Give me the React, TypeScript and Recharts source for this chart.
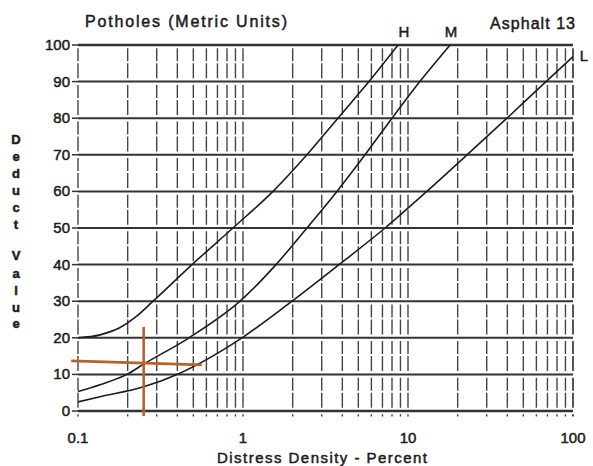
import React from "react";
import { ComposedChart, Line, XAxis, YAxis, ReferenceLine } from "recharts";

const highSeverity = [
  { x: 0.1, y: 20 },
  { x: 0.136, y: 20.8 },
  { x: 0.18, y: 22.8 },
  { x: 0.221, y: 25.5 },
  { x: 0.285, y: 30 },
  { x: 0.491, y: 40 },
  { x: 0.869, y: 50 },
  { x: 1.52, y: 60 },
  { x: 2.44, y: 70 },
  { x: 3.76, y: 80 },
  { x: 5.8, y: 90 },
  { x: 8.7, y: 100 },
];

const mediumSeverity = [
  { x: 0.1, y: 5.3 },
  { x: 0.136, y: 7.2 },
  { x: 0.198, y: 10 },
  { x: 0.25, y: 12.8 },
  { x: 0.471, y: 20 },
  { x: 0.959, y: 30 },
  { x: 1.585, y: 40 },
  { x: 2.44, y: 50 },
  { x: 3.71, y: 60 },
  { x: 5.49, y: 70 },
  { x: 8.0, y: 80 },
  { x: 11.8, y: 90 },
  { x: 18.0, y: 100 },
];

const lowSeverity = [
  { x: 0.1, y: 2.5 },
  { x: 0.136, y: 3.9 },
  { x: 0.25, y: 6.6 },
  { x: 0.398, y: 10 },
  { x: 0.986, y: 20 },
  { x: 1.98, y: 30 },
  { x: 3.82, y: 40 },
  { x: 7.26, y: 50 },
  { x: 13.0, y: 60 },
  { x: 22.8, y: 70 },
  { x: 39.8, y: 80 },
  { x: 68.6, y: 90 },
  { x: 100, y: 96.8 },
];

const xTicks = [0.1, 1, 10, 100];
const yTicks = [0, 10, 20, 30, 40, 50, 60, 70, 80, 90, 100];
const xGrid = [
  0.1, 0.2, 0.3, 0.4, 0.5, 0.6, 0.7, 0.8, 0.9,
  1, 2, 3, 4, 5, 6, 7, 8, 9,
  10, 20, 30, 40, 50, 60, 70, 80, 90, 100,
];

const exampleVertical = [
  { x: 0.25, y: -1.4 },
  { x: 0.25, y: 23 },
];
const exampleHorizontal = [
  { x: 0.091, y: 13.7 },
  { x: 0.562, y: 12.6 },
];

const yLabelLetters = [
  { ch: "D", y: 139 },
  { ch: "e", y: 156 },
  { ch: "d", y: 173 },
  { ch: "u", y: 190 },
  { ch: "c", y: 207 },
  { ch: "t", y: 224 },
  { ch: "V", y: 255 },
  { ch: "a", y: 273 },
  { ch: "l", y: 290 },
  { ch: "u", y: 307 },
  { ch: "e", y: 323 },
];

const FONT = '"Liberation Sans", Arial, Helvetica, sans-serif';
const INK = "#1c1c1c";

const XTick = (props: any) => {
  const { x, payload } = props;
  return (
    <text x={x} y={443} textAnchor="middle" fontFamily={FONT} fontSize={15} fill={INK} stroke={INK} strokeWidth={0.5}>
      {payload.value}
    </text>
  );
};

const YTick = (props: any) => {
  const { x, y, payload } = props;
  return (
    <text x={x} y={y + 5} textAnchor="end" fontFamily={FONT} fontSize={15} fill={INK} stroke={INK} strokeWidth={0.5}>
      {payload.value}
    </text>
  );
};

export default function App() {
  return (
    <div style={{ position: "absolute", left: 0, top: 0, width: 593, height: 466, background: "#fff" }}>
      <ComposedChart
        width={593}
        height={466}
        margin={{ top: 45, right: 20, bottom: 25, left: 18 }}
      >
        <XAxis
          type="number"
          dataKey="x"
          scale="log"
          domain={[0.1, 100]}
          ticks={xTicks}
          allowDataOverflow
          axisLine={false}
          tickLine={false}
          height={30}
          tick={<XTick />}
        />
        <YAxis
          type="number"
          dataKey="y"
          domain={[0, 100]}
          ticks={yTicks}
          allowDataOverflow
          width={60}
          axisLine={false}
          tickLine={{ stroke: "#333", strokeWidth: 1.5 }}
          tickSize={6}
          tickMargin={2}
          tick={<YTick />}
        />
        {xGrid.map((v) => (
          <ReferenceLine
            key={"vx" + v}
            segment={[
              { x: v, y: 100 },
              { x: v, y: -1.5 },
            ]}
            ifOverflow="visible"
            stroke="#444"
            strokeWidth={v === 100 ? 1.8 : 1.4}
            strokeDasharray="13 2 15 6.6"
            strokeDashoffset={33.3}
          />
        ))}
        {yTicks.map((v) => (
          <ReferenceLine
            key={"hy" + v}
            y={v}
            ifOverflow="visible"
            stroke="#333"
            strokeWidth={v === 100 || v === 0 ? 2.4 : 2}
          />
        ))}
        <Line
          data={highSeverity}
          dataKey="y"
          type="monotone"
          stroke={INK}
          strokeWidth={1.6}
          dot={false}
          isAnimationActive={false}
        />
        <Line
          data={mediumSeverity}
          dataKey="y"
          type="monotone"
          stroke={INK}
          strokeWidth={1.6}
          dot={false}
          isAnimationActive={false}
        />
        <Line
          data={lowSeverity}
          dataKey="y"
          type="monotone"
          stroke={INK}
          strokeWidth={1.6}
          dot={false}
          isAnimationActive={false}
        />
        <ReferenceLine
          segment={exampleVertical}
          ifOverflow="visible"
          stroke="#b8612a"
          strokeWidth={2.6}
        />
        <ReferenceLine
          segment={exampleHorizontal}
          ifOverflow="visible"
          stroke="#b8612a"
          strokeWidth={2.6}
        />
      </ComposedChart>
      <svg
        width={593}
        height={466}
        style={{ position: "absolute", left: 0, top: 0, pointerEvents: "none" }}
      >
        <g fontFamily={FONT} fill={INK} stroke={INK} strokeWidth={0.5}>
          <text x={85} y={27} fontSize={16} textLength={202} lengthAdjust="spacing">
            Potholes (Metric Units)
          </text>
          <text x={404} y={37} fontSize={15} textAnchor="middle">H</text>
          <text x={451} y={37} fontSize={15} textAnchor="middle">M</text>
          <text x={490} y={29} fontSize={16} textLength={85} lengthAdjust="spacing">
            Asphalt 13
          </text>
          <text x={584} y={61} fontSize={15} textAnchor="middle">L</text>
          <text x={217} y={463} fontSize={15} textLength={210} lengthAdjust="spacing">
            Distress Density - Percent
          </text>
          {yLabelLetters.map((l, i) => (
            <text key={i} x={16} y={l.y + 4.5} fontSize={13} fontWeight="bold" textAnchor="middle">
              {l.ch}
            </text>
          ))}
        </g>
      </svg>
    </div>
  );
}
